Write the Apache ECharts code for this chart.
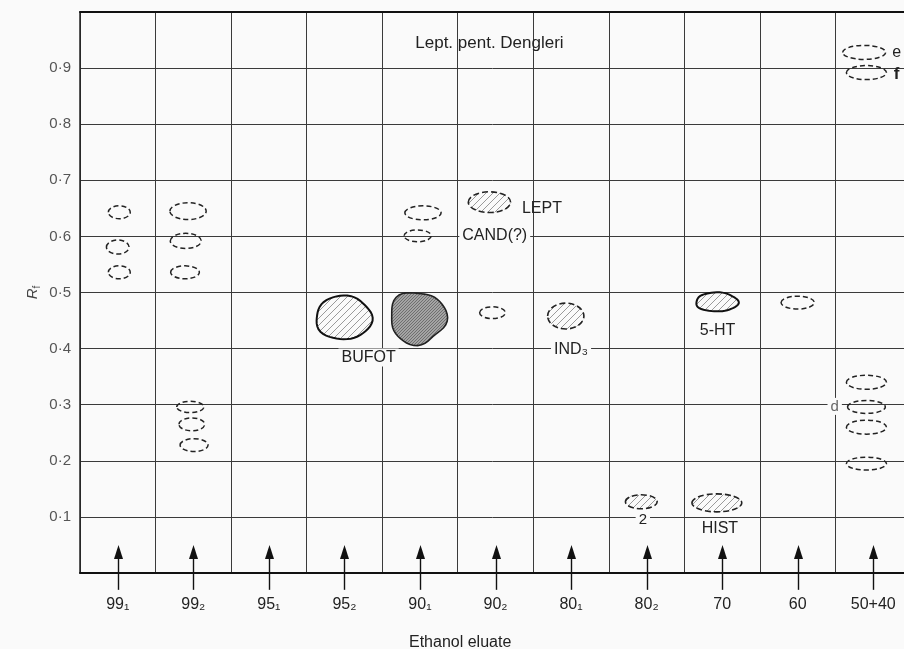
<!DOCTYPE html>
<html><head><meta charset="utf-8">
<script src="https://cdn.jsdelivr.net/npm/echarts@6/dist/echarts.min.js"></script>
<style>html,body{margin:0;padding:0;background:#fafafa}#c{width:904px;height:649px}</style>
</head><body><div id="c"></div>
<script>
// Eluate fractions (x-axis categories)
const categories = ['99₁','99₂','95₁','95₂','90₁','90₂','80₁','80₂','70','60','50+40'];
// Rf tick values
const rfTicks = [0.1,0.2,0.3,0.4,0.5,0.6,0.7,0.8,0.9];
// Spots: x in column units (0..11), Rf, extent along x (columns), extent along Rf, type
const spotX  = [0.52,0.50,0.52, 1.43,1.40,1.39,1.46,1.48,1.51, 3.49, 4.47,4.54,4.47, 5.42,5.46, 6.43, 7.43, 8.43,8.43, 9.50, 10.38,10.41,10.41,10.41,10.41,10.41];
const spotRf = [0.643,0.581,0.536, 0.645,0.592,0.536,0.296,0.265,0.228, 0.455, 0.455,0.642,0.601, 0.661,0.464, 0.458, 0.127, 0.483,0.125, 0.482, 0.928,0.892,0.340,0.296,0.260,0.195];
const spotW  = [0.29,0.30,0.29, 0.48,0.41,0.38,0.36,0.34,0.37, 0.74, 0.74,0.48,0.36, 0.56,0.34, 0.48, 0.42, 0.56,0.66, 0.44, 0.57,0.53,0.53,0.50,0.53,0.53];
const spotH  = [0.023,0.025,0.023, 0.030,0.027,0.023,0.020,0.023,0.023, 0.078, 0.093,0.025,0.021, 0.037,0.021, 0.046, 0.025, 0.034,0.032, 0.023, 0.025,0.025,0.025,0.023,0.025,0.023];
const spotType = ['faint','faint','faint', 'faint','faint','faint','faint','faint','faint', 'strong', 'dense','faint','faint', 'stained','faint', 'stained', 'stained', 'strong','stained', 'faint', 'faint','faint','faint','faint','faint','faint'];
// Annotations
const labelText = ['Lept. pent. Dengleri','LEPT','CAND(?)','BUFOT','IND₃','5-HT','2','HIST','d','e','f'];
const labelX    = [5.42, 5.85, 5.49, 3.82, 6.50, 8.44, 7.45, 8.47, 9.99, 10.81, 10.81];
const labelRf   = [0.945, 0.649, 0.601, 0.384, 0.398, 0.432, 0.094, 0.080, 0.297, 0.928, 0.889];

const FONT = 'Liberation Sans, Arial, sans-serif';
function hatch(bg, line, gap, lw){
  const c = document.createElement('canvas'); c.width = gap; c.height = gap;
  const g = c.getContext('2d');
  if (bg) { g.fillStyle = bg; g.fillRect(0,0,gap,gap); }
  g.strokeStyle = line; g.lineWidth = lw; g.beginPath();
  g.moveTo(0,gap); g.lineTo(gap,0);
  g.moveTo(-gap/2,gap/2); g.lineTo(gap/2,-gap/2);
  g.moveTo(gap/2,gap*1.5); g.lineTo(gap*1.5,gap/2);
  g.stroke();
  return {image: c, repeat: 'repeat'};
}
const lightHatch = hatch(null, '#9a9a9a', 7, 1);
const denseHatch = hatch('#a4a4a4', '#626262', 3, 0.8);

function blob(cx, cy, rx, ry, w){
  const pts = [];
  for (let k = 0; k < 48; k++) {
    const t = k / 48 * Math.PI * 2;
    const r = 1 + w[0]*Math.sin(3*t + w[1]) + w[2]*Math.sin(5*t + w[3]);
    pts.push([cx + rx*r*Math.cos(t), cy + ry*r*Math.sin(t)]);
  }
  return pts;
}

const chart = echarts.init(document.getElementById('c'));
chart.setOption({
  backgroundColor: '#fafafa',
  animation: false,
  title: {text: 'Ethanol eluate', left: 404, top: 630,
    textStyle: {fontFamily: FONT, fontSize: 16, fontWeight: 'normal', color: '#222'}},
  grid: {left: 80, top: 12, width: 831, height: 561, containLabel: false, outerBoundsMode: 'none'},
  xAxis: [
    {type: 'category', data: categories, boundaryGap: true, position: 'bottom',
     axisLine: {show: true, lineStyle: {color: '#111', width: 2}},
     axisTick: {show: false},
     axisLabel: {interval: 0, margin: 24, fontFamily: FONT, fontSize: 16, color: '#222'},
     splitLine: {show: true, interval: 0, lineStyle: {color: '#3a3a3a', width: 1}}},
    {type: 'value', min: 0, max: 11, position: 'top',
     axisLine: {show: true, onZero: false, lineStyle: {color: '#111', width: 2}},
     axisTick: {show: false}, axisLabel: {show: false}, splitLine: {show: false}}
  ],
  yAxis: {type: 'value', min: 0, max: 1, interval: 0.1,
    name: '{r|R}{s|f}', nameLocation: 'middle', nameGap: 38, nameRotate: 90, nameMoveOverlap: false,
    nameTextStyle: {rich: {r: {fontFamily: FONT, fontSize: 15, color: '#444', fontStyle: 'italic'},
                           s: {fontFamily: FONT, fontSize: 10, color: '#444', padding: [8,0,0,0]}}},
    axisLine: {show: true, lineStyle: {color: '#222', width: 1.5}},
    axisTick: {show: false},
    axisLabel: {margin: 9, fontFamily: FONT, fontSize: 15, color: '#555',
      formatter: v => rfTicks.some(t => Math.abs(t - v) < 1e-6) ? v.toFixed(1).replace('.', '·') : ''},
    splitLine: {show: true, lineStyle: {color: '#3a3a3a', width: 1}}},
  series: [
    {type: 'custom', xAxisIndex: 1, yAxisIndex: 0, clip: false, z: 3,
     data: categories.map((c, i) => [i + 0.5]),
     renderItem: (p, api) => {
       const base = api.coord([api.value(0), -0.03]);
       const tip = api.coord([api.value(0), 0.05]);
       const x = Math.round(base[0]) + 0.5;
       return {type: 'group', children: [
         {type: 'line', shape: {x1: x, y1: base[1], x2: x, y2: tip[1] + 10},
          style: {stroke: '#111', lineWidth: 1.4}},
         {type: 'polygon', shape: {points: [[x, tip[1]], [x - 4.5, tip[1] + 14], [x + 4.5, tip[1] + 14]]},
          style: {fill: '#111'}}
       ]};
     }},
    {type: 'custom', xAxisIndex: 1, yAxisIndex: 0, clip: false, z: 4,
     data: spotX.map((x, i) => [x, spotRf[i], spotW[i], spotH[i], i]),
     renderItem: (p, api) => {
       const c = api.coord([api.value(0), api.value(1)]);
       const s = api.size([api.value(2), api.value(3)]);
       const t = spotType[api.value(4)];
       const rx = s[0] / 2, ry = s[1] / 2;
       if (t === 'dense') {
         return {type: 'polygon', shape: {points: blob(c[0], c[1], rx, ry, [0.07, 2.2, 0.03, 0.5])},
           style: {fill: denseHatch, stroke: '#222', lineWidth: 1.6}};
       }
       if (t === 'strong') {
         return {type: 'polygon', shape: {points: blob(c[0], c[1], rx, ry, [0.03, 0.7, 0.02, 1.5])},
           style: {fill: lightHatch, stroke: '#111', lineWidth: 2}};
       }
       if (t === 'stained') {
         return {type: 'ellipse', shape: {cx: c[0], cy: c[1], rx: rx, ry: ry},
           style: {fill: lightHatch, stroke: '#222', lineWidth: 1.6, lineDash: [6, 3]}};
       }
       return {type: 'ellipse', shape: {cx: c[0], cy: c[1], rx: rx, ry: ry},
         style: {fill: null, stroke: '#222', lineWidth: 1.5, lineDash: [5, 3]}};
     }},
    {type: 'custom', xAxisIndex: 1, yAxisIndex: 0, clip: false, z: 5,
     data: labelX.map((x, i) => [x, labelRf[i], i]),
     renderItem: (p, api) => {
       const c = api.coord([api.value(0), api.value(1)]);
       const txt = labelText[api.value(2)];
       const mask = ['CAND(?)', 'IND₃', 'BUFOT', '2', 'd'].includes(txt);
       let font = '16px ';
       if (txt === 'f') font = 'bold 17px ';
       else if (txt === 'e') font = '16px ';
       else if (txt.length > 10) font = '17px ';
       else if (txt === 'd' || txt === '2') font = '15px ';
       return {type: 'text', x: c[0], y: c[1],
         style: {text: txt, align: txt === 'LEPT' ? 'left' : 'center', verticalAlign: 'middle',
           font: font + FONT,
           fill: txt === 'd' ? '#666' : '#222',
           backgroundColor: mask ? '#fafafa' : null, padding: mask ? [1, 3] : 0}};
     }}
  ]
});
</script></body></html>
